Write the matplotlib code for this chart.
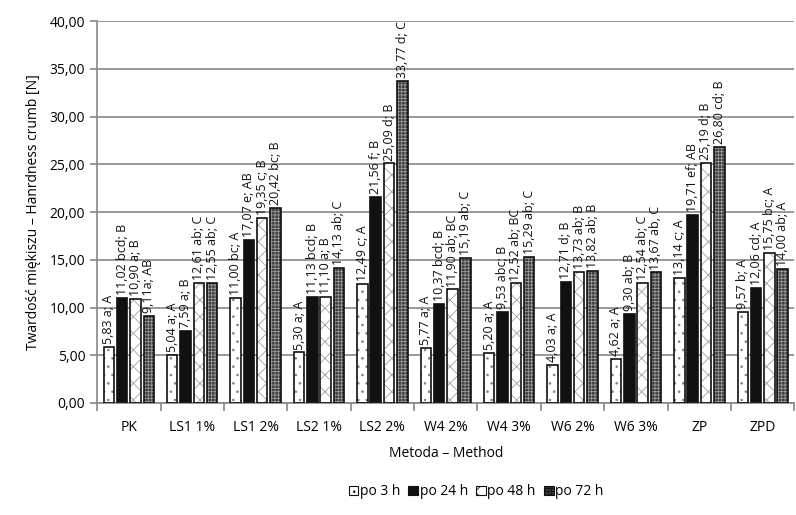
import numpy as np
import matplotlib.pyplot as plt
from matplotlib.patches import Patch

plt.rcParams['font.family'] = ['Open Sans', 'DejaVu Sans']
plt.rcParams['hatch.linewidth'] = 0.6

# dane
methods = ['PK', 'LS1 1%', 'LS1 2%', 'LS2 1%', 'LS2 2%', 'W4 2%', 'W4 3%',
           'W6 2%', 'W6 3%', 'ZP', 'ZPD']
series = ['po 3 h', 'po 24 h', 'po 48 h', 'po 72 h']

h3 = [5.83, 5.04, 11.00, 5.30, 12.49, 5.77, 5.20, 4.03, 4.62, 13.14, 9.57]
h24 = [11.02, 7.59, 17.07, 11.13, 21.56, 10.37, 9.53, 12.71, 9.30, 19.71, 12.06]
h48 = [10.90, 12.61, 19.35, 11.10, 25.09, 11.90, 12.52, 13.73, 12.54, 25.19, 15.75]
h72 = [9.11, 12.55, 20.42, 14.13, 33.77, 15.19, 15.29, 13.82, 13.67, 26.80, 14.00]

lab3 = [' a; A', ' a; A', ' bc; A', ' a; A', ' c; A', ' a; A', ' a; A', ' a; A', ' a; A', ' c; A', ' b; A']
lab24 = [' bcd; B', ' a; B', ' e; AB', ' bcd; B', ' f; B', ' bcd; B', ' abc; B', ' d; B', ' ab; B', ' ef; AB', ' cd; A']
lab48 = [' a; B', ' ab; C', ' c; B', ' a; B', ' d; B', ' ab; BC', ' ab; BC', ' ab; B', ' ab; C', ' d; B', ' bc; A']
lab72 = ['a; AB', ' ab; C', ' bc; B', ' ab; C', ' d; C', ' ab; C', ' ab; C', ' ab; B', ' ab, C', ' cd; B', ' ab; A']

values = [h3, h24, h48, h72]
letters = [lab3, lab24, lab48, lab72]

# style słupków
styles = [
    dict(face='white', hatch='..', hcol='#808080'),
    dict(face='#111111', hatch=None, hcol='#111111'),
    dict(face='white', hatch='xx', hcol='#a0a0a0'),
    dict(face='#3c3c3c', hatch='+++++', hcol='#9a9a9a'),
]

fig = plt.figure(figsize=(7.96, 5.15), dpi=100)
ax = fig.add_axes([0.122, 0.2175, 0.876, 0.7415])

x = np.arange(len(methods))
step = 0.21
width = 0.165
offsets = [-1.5 * step, -0.5 * step, 0.5 * step, 1.5 * step]

for vals, labs, st, off in zip(values, letters, styles, offsets):
    pos = x + off
    if st['hatch']:
        ax.bar(pos, vals, width, color=st['face'], hatch=st['hatch'],
               edgecolor=st['hcol'], linewidth=0, zorder=2)
    else:
        ax.bar(pos, vals, width, color=st['face'], linewidth=0, zorder=2)
    ax.bar(pos, vals, width, fill=False, edgecolor='#111111', linewidth=1.2, zorder=3)
    for p, v, l in zip(pos, vals, labs):
        s = f'{v:.2f}'.replace('.', ',') + l
        ax.text(p, v + 0.3, s, rotation=90, ha='center', va='bottom',
                fontsize=9, color='#111111', zorder=4)

ax.set_ylim(0, 40)
ax.set_xlim(-0.5, len(methods) - 0.5)
ax.set_yticks(np.arange(0, 41, 5))
ax.set_yticklabels([f'{t:.2f}'.replace('.', ',') for t in np.arange(0, 41, 5)])
ax.yaxis.grid(True, color='#888888', linewidth=1.2, zorder=0)
ax.set_axisbelow(True)

# podziałka osi X
ax.set_xticks(np.arange(-0.5, len(methods), 1.0))
ax.set_xticklabels([])
ax.set_xticks(x, minor=True)
ax.set_xticklabels(methods, minor=True)
ax.tick_params(axis='x', which='major', length=6, color='#888888', width=1.2)
ax.tick_params(axis='x', which='minor', length=0, pad=12, labelsize=10)
ax.tick_params(axis='y', length=5, color='#888888', width=1.2, labelsize=10)

for s in ['top', 'right']:
    ax.spines[s].set_visible(False)
for s in ['left', 'bottom']:
    ax.spines[s].set_color('#888888')
    ax.spines[s].set_linewidth(1.2)

ax.set_xlabel('Metoda – Method', fontsize=10, labelpad=8)
ax.set_ylabel('Twardość miękiszu – Hanrdness crumb [N]', fontsize=10, labelpad=6)

handles = []
for st, name in zip(styles, series):
    handles.append(Patch(facecolor=st['face'], hatch=st['hatch'],
                         edgecolor='#111111', linewidth=0.8, label=name))
fig.legend(handles=handles, loc='center', bbox_to_anchor=(0.598, 0.045), ncol=4,
           frameon=False, fontsize=10, handlelength=0.7, handleheight=0.7,
           handletextpad=0.1, columnspacing=0.6)

fig.savefig('out.png', dpi=100)
